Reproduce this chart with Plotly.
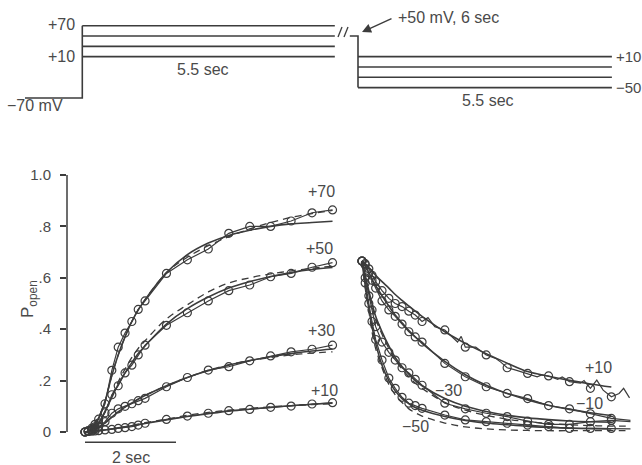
import plotly.graph_objects as go

W, H = 642, 465
INK = "#3c3c3c"
TXT = "#4a4a4a"
FONT = "Liberation Sans, Arial, sans-serif"

# ---------------- data ----------------
# activation (left panel), time in s after step onset
T_ON = [0, 0.07, 0.15, 0.22, 0.30, 0.44, 0.59, 0.73, 0.88, 1.03, 1.17, 1.32,
        1.79, 2.25, 2.71, 3.16, 3.62, 4.08, 4.53, 4.99, 5.44]
ON_LABELS = ["+70", "+50", "+30", "+10"]
ON_P70 = [0.0, 0.005, 0.015, 0.03, 0.05, 0.11, 0.24, 0.33, 0.385, 0.43, 0.477, 0.51,
          0.617, 0.67, 0.712, 0.773, 0.80, 0.80, 0.821, 0.853, 0.864]
ON_P50 = [0.0, 0.003, 0.01, 0.02, 0.035, 0.075, 0.145, 0.18, 0.23, 0.26, 0.30, 0.338,
          0.415, 0.464, 0.51, 0.55, 0.572, 0.604, 0.617, 0.641, 0.659]
ON_P30 = [0.0, 0.002, 0.006, 0.012, 0.02, 0.04, 0.073, 0.09, 0.10, 0.11, 0.122, 0.131,
          0.176, 0.212, 0.241, 0.254, 0.277, 0.296, 0.312, 0.322, 0.338]
ON_P10 = [0.0, 0.002, 0.003, 0.004, 0.005, 0.008, 0.01, 0.014, 0.017, 0.021, 0.027, 0.034,
          0.049, 0.062, 0.073, 0.083, 0.088, 0.096, 0.101, 0.109, 0.114]
# fitted curves (solid) and alternative fits (dashed), read at T_ON
FIT_ON70 = [0.0, 0.003, 0.012, 0.028, 0.055, 0.12, 0.22, 0.30, 0.37, 0.43, 0.475, 0.515,
            0.62, 0.69, 0.735, 0.765, 0.785, 0.80, 0.81, 0.815, 0.82]
FIT_ON50 = [0.0, 0.002, 0.008, 0.018, 0.035, 0.08, 0.135, 0.185, 0.23, 0.27, 0.305, 0.335,
            0.42, 0.48, 0.525, 0.56, 0.585, 0.605, 0.62, 0.632, 0.64]
FIT_ON30 = [0.0, 0.001, 0.004, 0.009, 0.016, 0.035, 0.058, 0.078, 0.097, 0.113, 0.128, 0.142,
            0.18, 0.212, 0.238, 0.26, 0.278, 0.293, 0.305, 0.315, 0.323]
FIT_ON10 = [0.0, 0.001, 0.002, 0.003, 0.005, 0.008, 0.012, 0.016, 0.02, 0.024, 0.029, 0.033,
            0.047, 0.06, 0.071, 0.081, 0.089, 0.096, 0.102, 0.108, 0.112]
DASH_ON70 = [0.0, 0.003, 0.012, 0.028, 0.055, 0.12, 0.22, 0.30, 0.37, 0.43, 0.475, 0.515,
             0.62, 0.68, 0.725, 0.76, 0.79, 0.815, 0.835, 0.85, 0.862]
DASH_ON50 = [0.0, 0.002, 0.008, 0.018, 0.035, 0.08, 0.14, 0.195, 0.245, 0.29, 0.325, 0.355,
             0.44, 0.495, 0.545, 0.58, 0.60, 0.615, 0.627, 0.637, 0.645]
DASH_ON30 = [0.0, 0.001, 0.004, 0.009, 0.016, 0.035, 0.058, 0.078, 0.097, 0.113, 0.128, 0.142,
             0.18, 0.213, 0.24, 0.262, 0.278, 0.29, 0.30, 0.307, 0.312]
DASH_ON10 = [0.0, 0.001, 0.002, 0.003, 0.005, 0.008, 0.012, 0.016, 0.021, 0.026, 0.031, 0.036,
             0.05, 0.065, 0.076, 0.085, 0.092, 0.098, 0.103, 0.107, 0.11]

# deactivation (right panel), time in s after repolarisation
T_OFF = [0, 0.07, 0.15, 0.22, 0.30, 0.44, 0.59, 0.73, 0.88, 1.03, 1.17, 1.32,
         1.82, 2.27, 2.73, 3.19, 3.64, 4.10, 4.56, 5.02, 5.48]
OFF_LABELS = ["+10", "\u221210", "\u221230", "\u221250"]
OFF_P10 = [0.665, 0.655, 0.635, 0.61, 0.585, 0.55, 0.52, 0.50, 0.488, 0.47, 0.455, 0.43,
           0.397, 0.33, 0.30, 0.25, 0.228, 0.218, 0.196, 0.17, 0.137]
OFF_M10 = [0.665, 0.65, 0.62, 0.59, 0.56, 0.51, 0.475, 0.45, 0.42, 0.39, 0.37, 0.35,
           0.267, 0.215, 0.176, 0.15, 0.13, 0.103, 0.09, 0.071, 0.053]
OFF_M30 = [0.665, 0.60, 0.53, 0.475, 0.41, 0.35, 0.31, 0.28, 0.25, 0.23, 0.205, 0.182,
           0.112, 0.09, 0.073, 0.06, 0.042, 0.03, 0.03, 0.04, 0.045]
OFF_M50 = [0.665, 0.58, 0.50, 0.43, 0.36, 0.28, 0.21, 0.17, 0.135, 0.112, 0.103, 0.092,
           0.066, 0.047, 0.04, 0.034, 0.027, 0.021, 0.014, 0.014, 0.014]
FIT_OFF10 = [0.665, 0.655, 0.64, 0.625, 0.61, 0.585, 0.56, 0.535, 0.512, 0.49, 0.47, 0.45,
             0.39, 0.345, 0.305, 0.268, 0.235, 0.217, 0.201, 0.187, 0.175]
FIT_OFFM10 = [0.665, 0.645, 0.62, 0.595, 0.57, 0.53, 0.49, 0.455, 0.425, 0.395, 0.37, 0.345,
              0.275, 0.223, 0.182, 0.15, 0.125, 0.104, 0.088, 0.075, 0.064]
FIT_OFFM30 = [0.665, 0.61, 0.55, 0.50, 0.45, 0.39, 0.335, 0.29, 0.255, 0.225, 0.20, 0.18,
              0.13, 0.10, 0.08, 0.065, 0.055, 0.048, 0.043, 0.04, 0.038]
FIT_OFFM50 = [0.665, 0.57, 0.48, 0.41, 0.345, 0.26, 0.20, 0.16, 0.13, 0.11, 0.095, 0.085,
              0.06, 0.045, 0.035, 0.028, 0.022, 0.018, 0.015, 0.013, 0.012]
DASH_OFFM30 = [0.665, 0.60, 0.54, 0.49, 0.44, 0.38, 0.325, 0.28, 0.245, 0.215, 0.19, 0.17,
               0.115, 0.085, 0.065, 0.05, 0.04, 0.033, 0.028, 0.025, 0.023]
DASH_OFFM50 = [0.665, 0.56, 0.47, 0.39, 0.325, 0.25, 0.185, 0.145, 0.115, 0.09, 0.075, 0.062,
               0.035, 0.02, 0.012, 0.008, 0.006, 0.005, 0.005, 0.005, 0.005]
# unsampled noisy trace points between / after the circles
NOISE_T10 = [1.45, 1.6, 2.1, 2.18, 2.5, 2.95, 3.05, 3.4, 3.85, 3.95, 4.3, 4.4, 4.8, 4.88,
             5.16, 5.3, 5.65, 5.75, 5.88]
NOISE_P10 = [0.445, 0.41, 0.35, 0.372, 0.33, 0.285, 0.272, 0.24, 0.215, 0.222, 0.205, 0.214,
             0.19, 0.2, 0.202, 0.163, 0.15, 0.17, 0.133]
TAIL_T = 5.9
TAIL_M10, TAIL_M30, TAIL_M50 = 0.045, 0.04, 0.012

# voltage protocol (mV, s)
V_HOLD = -70
HOLD_T = -1.26
V_ON = [70, 50, 30, 10]
V_PRE = 50
V_OFF = [10, -10, -30, -50]
STEP_DUR = 5.55

# ---------------- layout constants ----------------
PXS = 45.5      # px per second
def px(x): return x / W
def py(y): return 1 - y / H

fig = go.Figure()

def add_set(xs, data, fit, dash, xa, extra_t=None, extra_p=None, tail=None):
    lx, ly = list(xs), list(data)
    if extra_t:
        pts = sorted(list(zip(lx, ly)) + list(zip(extra_t, extra_p)))
        lx, ly = [p[0] for p in pts], [p[1] for p in pts]
    if tail is not None:
        lx.append(TAIL_T); ly.append(tail)
    fig.add_trace(go.Scatter(x=lx, y=ly, xaxis=xa, yaxis="y", mode="lines",
                             line=dict(color=INK, width=1.2), hoverinfo="skip"))
    if fit is not None:
        fig.add_trace(go.Scatter(x=list(xs), y=list(fit), xaxis=xa, yaxis="y", mode="lines",
                                 line=dict(color=INK, width=1.6, shape="spline")))
    if dash is not None:
        dx, dy = list(xs), list(dash)
        if tail is not None:
            dx.append(TAIL_T); dy.append(dash[-1])
        fig.add_trace(go.Scatter(x=dx, y=dy, xaxis=xa, yaxis="y", mode="lines",
                                 line=dict(color=INK, width=1.3, dash="7px,5px", shape="spline")))
    fig.add_trace(go.Scatter(x=xs, y=data, xaxis=xa, yaxis="y", mode="markers",
                             cliponaxis=False,
                             marker=dict(symbol="circle-open", size=8, color=INK,
                                         line=dict(color=INK, width=1.2))))

add_set(T_ON, ON_P70, FIT_ON70, DASH_ON70, "x")
add_set(T_ON, ON_P50, FIT_ON50, DASH_ON50, "x")
add_set(T_ON, ON_P30, FIT_ON30, DASH_ON30, "x")
add_set(T_ON, ON_P10, FIT_ON10, DASH_ON10, "x")
add_set(T_OFF, OFF_P10, FIT_OFF10, None, "x2", NOISE_T10, NOISE_P10)
add_set(T_OFF, OFF_M10, FIT_OFFM10, None, "x2", tail=TAIL_M10)
add_set(T_OFF, OFF_M30, FIT_OFFM30, DASH_OFFM30, "x2", tail=TAIL_M30)
add_set(T_OFF, OFF_M50, FIT_OFFM50, DASH_OFFM50, "x2", tail=TAIL_M50)

# ---- protocol traces (x3 / y3) ----
OFF_OFS = (358 - 82.3) / PXS
PLINE = dict(color=INK, width=1.6)
fig.add_trace(go.Scatter(x=[HOLD_T, 0, 0], y=[V_HOLD, V_HOLD, max(V_ON)], xaxis="x3", yaxis="y3",
                         mode="lines", line=PLINE))
for v in V_ON:
    fig.add_trace(go.Scatter(x=[0, STEP_DUR], y=[v, v], xaxis="x3", yaxis="y3",
                             mode="lines", line=PLINE))
fig.add_trace(go.Scatter(x=[OFF_OFS - 0.18, OFF_OFS, OFF_OFS], y=[V_PRE, V_PRE, min(V_OFF)],
                         xaxis="x3", yaxis="y3", mode="lines", line=PLINE))
for v in V_OFF:
    fig.add_trace(go.Scatter(x=[OFF_OFS, OFF_OFS + STEP_DUR + 0.03], y=[v, v], xaxis="x3", yaxis="y3",
                             mode="lines", line=PLINE))

# ---- annotations ----
ann = []
def txt(x, y, s, xref="paper", yref="paper", xanchor="center", size=16):
    ann.append(dict(x=x, y=y, xref=xref, yref=yref, text=s, showarrow=False,
                    xanchor=xanchor, yanchor="middle", font=dict(size=size, color=TXT, family=FONT)))

# trace labels (data coordinates)
for lab, t, p in zip(ON_LABELS, [5.2, 5.16, 5.2, 5.27], [0.935, 0.713, 0.394, 0.163]):
    txt(t, p, lab, "x", "y")
for lab, t, p in zip(OFF_LABELS, [5.19, 5.01, 1.9, 1.17], [0.25, 0.109, 0.163, 0.02]):
    txt(t, p, lab, "x2", "y")
# scale bar
txt(1.0, -0.101, "2 sec", "x", "y")
# protocol labels
txt(px(77), py(24), "+70", xanchor="right")
txt(px(77), py(57), "+10", xanchor="right")
txt(px(5), py(105), "\u221270 mV", xanchor="left")
txt(px(203), py(70), "5.5 sec")
txt(px(488), py(101), "5.5 sec")
txt(px(614), py(57), "+10", xanchor="left", size=15)
txt(px(614), py(88), "\u221250", xanchor="left", size=15)
txt(px(396), py(17), "+50 mV, 6 sec", xanchor="left")
ann.append(dict(x=px(362), y=py(32), xref="paper", yref="paper", ax=31, ay=-14,
                text="", showarrow=True, arrowhead=2, arrowsize=1.3, arrowwidth=1.4,
                arrowcolor=INK))
# y axis title
ann.append(dict(x=px(16), y=py(299), xref="paper", yref="paper", showarrow=False,
                text="P<sub>open</sub>", textangle=-90, font=dict(size=17, color=TXT, family=FONT)))

shapes = [
    # y axis line from 0 to 1
    dict(type="line", xref="paper", yref="y", x0=px(67), x1=px(67), y0=0, y1=1,
         line=dict(color=INK, width=1.5)),
    # 2 s scale bar
    dict(type="line", xref="x", yref="y", x0=0, x1=2, y0=-0.04, y1=-0.04,
         line=dict(color=INK, width=1.5)),
    # break marks
    dict(type="line", xref="paper", yref="paper", x0=px(338), x1=px(342), y0=py(37), y1=py(27),
         line=dict(color=INK, width=1.3)),
    dict(type="line", xref="paper", yref="paper", x0=px(344), x1=px(348), y0=py(37), y1=py(27),
         line=dict(color=INK, width=1.3)),
]

ytop, ybot = 175, 462.8
fig.update_layout(
    width=W, height=H, margin=dict(l=0, r=0, t=0, b=0),
    paper_bgcolor="white", plot_bgcolor="rgba(0,0,0,0)",
    showlegend=False, template="none",
    font=dict(family=FONT, color=TXT, size=14),
    xaxis=dict(domain=[px(67), px(345)], range=[(67 - 85) / PXS, (345 - 85) / PXS],
               visible=False, anchor="y"),
    xaxis2=dict(domain=[px(350), 1], range=[(350 - 362) / PXS, (642 - 362) / PXS],
                visible=False, anchor="y"),
    yaxis=dict(domain=[py(ybot), py(ytop)], range=[-(ybot - 432) / 257, 1.0],
               showline=False, showgrid=False, zeroline=False, automargin=False,
               ticks="outside", ticklen=6, tickwidth=1.5, tickcolor=INK,
               tickvals=[0, 0.2, 0.4, 0.6, 0.8, 1.0],
               ticktext=["0", ".2", ".4", ".6", ".8", "1.0"],
               ticklabelstandoff=6,
               tickfont=dict(size=15, color=TXT, family=FONT), anchor="x"),
    xaxis3=dict(domain=[0, 1], range=[-82.3 / PXS, (642 - 82.3) / PXS], visible=False, anchor="y3"),
    yaxis3=dict(domain=[py(110), 1], range=[-93.4, 119.8], visible=False, anchor="x3"),
    annotations=ann, shapes=shapes,
)

fig.write_html("out.html", config={"displayModeBar": False},
               post_script="document.body.style.margin='0';document.body.style.overflow='hidden';")
